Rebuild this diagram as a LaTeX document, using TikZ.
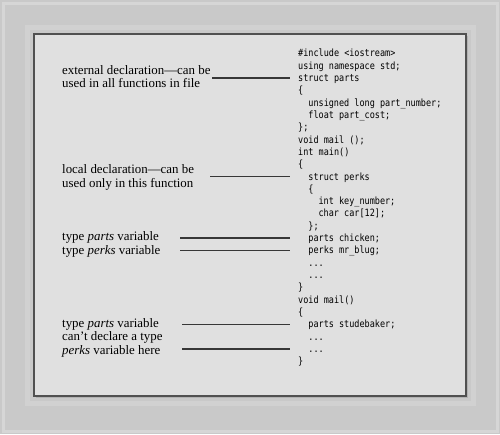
\documentclass[tikz,border=0pt]{standalone}
\usepackage{fontspec}
\setmainfont{Liberation Serif}
\newfontfamily\codefont[FakeStretch=0.85]{DejaVu Sans Mono}
\usepackage{tikz}
\usetikzlibrary{positioning,calc}
\definecolor{outergray}{RGB}{201,201,201}
\definecolor{bandgray}{RGB}{214,214,214}
\definecolor{panelgray}{RGB}{224,224,224}
\definecolor{edgegray}{RGB}{80,80,80}
\definecolor{linkgray}{RGB}{55,55,55}
\newcommand\codedots{...}

\begin{document}
\begin{tikzpicture}[x=1pt,y=-1pt,
  code/.style={anchor=west,inner sep=0pt,text height=7pt,text depth=0pt,
               font=\codefont\fontsize{10}{11}\selectfont},
  note/.style={anchor=base west,inner sep=0pt,align=left,
               font=\fontsize{12.9}{13.6}\selectfont},
  link/.style={draw=linkgray,line width=1.5pt}]
  % frame and panel
  \fill[outergray] (0,0) rectangle (500,434);
  \draw[bandgray,line width=3pt] (3,3) rectangle (497,431);
  \draw[bandgray!60!outergray,line width=5pt] (27,27) rectangle (473,403);
  \fill[black!30] (36,36) rectangle (468,398);
  \filldraw[fill=panelgray,draw=edgegray,line width=1.6pt] (34,34) rectangle (466,396);
  % code lines
  \foreach \ind/\txt [count=\n] in {
      0/\#include <iostream>, 0/using namespace std;, 0/struct parts, 0/\{,
      1/unsigned long part\_number;, 1/float part\_cost;, 0/\};,
      0/void mail ();, 0/int main(), 0/\{, 1/struct perks, 1/\{,
      2/int key\_number;, 2/char car[12];, 1/\};, 1/parts chicken;,
      1/perks mr\_blug;, 1/\codedots, 1/\codedots, 0/\}, 0/void mail(), 0/\{,
      1/parts studebaker;, 1/\codedots, 1/\codedots, 0/\}}
    \node[code] (c\n) at ({298+10.2*\ind},{53.3+12.32*(\n-1)}) {\txt};
  % notes (base = last line)
  \node[note] (lab1) at (62,87.6) {external declaration---can be\\used in all functions in file};
  \node[note] (lab2) at (62,187.1) {local declaration---can be\\used only in this function};
  \node[note] (lab3) at (62,240.5) {type \emph{parts} variable};
  \node[note] (lab4) at (62,254) {type \emph{perks} variable};
  \node[note] (lab5) at (62,354.2) {type \emph{parts} variable\\can't declare a type\\\emph{perks} variable here};
  % connectors
  \coordinate (gut) at (290,0);
  \coordinate (t1) at (212,0);
  \coordinate (t2) at (210,0);
  \coordinate (t3) at (180,0);
  \coordinate (t4) at (182,0);
  \draw[link] (t1 |- c3.west) -- (gut |- c3.west);
  \draw[link] (t2 |- c11.west) -- (gut |- c11.west);
  \draw[link] (t3 |- c16.west) -- (gut |- c16.west);
  \draw[link] (t3 |- c17.west) -- (gut |- c17.west);
  \draw[link] (t4 |- c23.west) -- (gut |- c23.west);
  \draw[link] (t4 |- c25.west) -- (gut |- c25.west);
\end{tikzpicture}
\end{document}
